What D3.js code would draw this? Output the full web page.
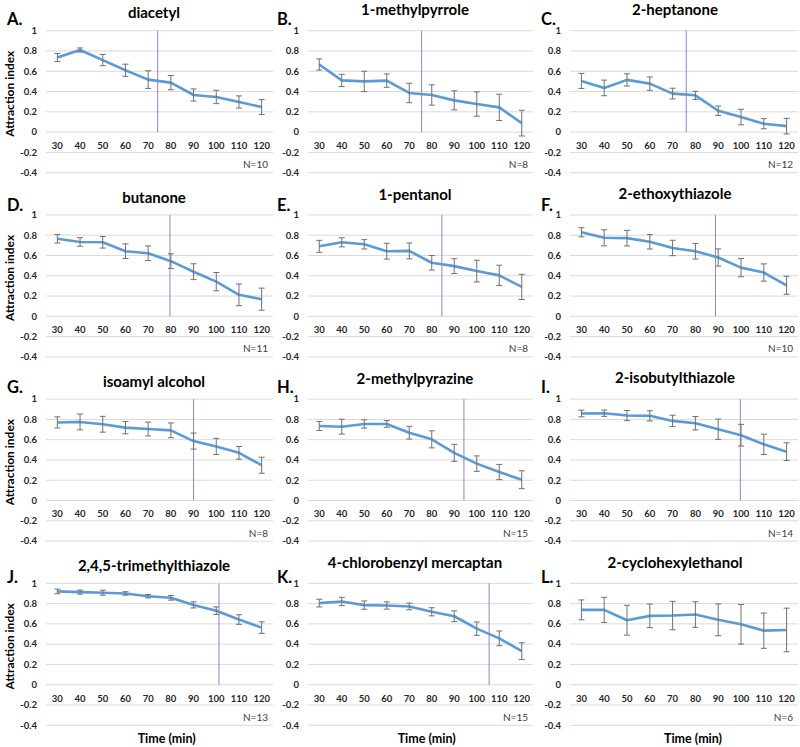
<!DOCTYPE html>
<html><head><meta charset="utf-8">
<script src="https://cdn.jsdelivr.net/npm/d3@7"></script>
<style>
html,body{margin:0;padding:0;background:#fff;}
svg{display:block;font-family:Lato,"Open Sans",sans-serif;}
</style></head>
<body>
<svg id="chart" width="800" height="747"></svg>
<script>
// ---------- data ----------
const times = [30, 40, 50, 60, 70, 80, 90, 100, 110, 120];
const yTicks = [-0.4, -0.2, 0, 0.2, 0.4, 0.6, 0.8, 1];
const yTickLabels = ["-0.4", "-0.2", "0", "0.2", "0.4", "0.6", "0.8", "1"];
const letters = ["A.", "B.", "C.", "D.", "E.", "F.", "G.", "H.", "I.", "J.", "K.", "L."];
const titles = ["diacetyl", "1-methylpyrrole", "2-heptanone", "butanone", "1-pentanol",
  "2-ethoxythiazole", "isoamyl alcohol", "2-methylpyrazine", "2-isobutylthiazole",
  "2,4,5-trimethylthiazole", "4-chlorobenzyl mercaptan", "2-cyclohexylethanol"];
const nLabels = ["N=10", "N=8", "N=12", "N=11", "N=8", "N=10", "N=8", "N=15", "N=14", "N=13", "N=15", "N=6"];
// time (min) of the vertical marker line in each panel (null = none)
const markerTimes = [74.2, 75.5, 76, 79.6, 84.5, 88.8, 90, 94.3, 99.7, 101.2, 105.5, null];
const means = [
  [0.736, 0.81, 0.71, 0.61, 0.518, 0.488, 0.366, 0.347, 0.297, 0.248],
  [0.667, 0.51, 0.50, 0.508, 0.386, 0.366, 0.313, 0.277, 0.244, 0.089],
  [0.505, 0.436, 0.515, 0.478, 0.38, 0.363, 0.211, 0.149, 0.083, 0.059],
  [0.765, 0.733, 0.73, 0.642, 0.622, 0.544, 0.44, 0.342, 0.212, 0.169],
  [0.69, 0.73, 0.71, 0.642, 0.645, 0.528, 0.495, 0.446, 0.404, 0.29],
  [0.829, 0.774, 0.771, 0.735, 0.674, 0.642, 0.58, 0.48, 0.432, 0.306],
  [0.77, 0.775, 0.752, 0.719, 0.705, 0.692, 0.586, 0.533, 0.47, 0.348],
  [0.735, 0.728, 0.755, 0.755, 0.669, 0.603, 0.47, 0.364, 0.281, 0.205],
  [0.858, 0.861, 0.838, 0.835, 0.785, 0.762, 0.703, 0.644, 0.554, 0.482],
  [0.92, 0.913, 0.907, 0.90, 0.873, 0.857, 0.787, 0.73, 0.643, 0.563],
  [0.805, 0.821, 0.785, 0.781, 0.772, 0.719, 0.675, 0.553, 0.457, 0.331],
  [0.738, 0.738, 0.636, 0.679, 0.682, 0.692, 0.64, 0.596, 0.533, 0.54]
];
const errors = [
  [0.04, 0.02, 0.055, 0.06, 0.087, 0.07, 0.06, 0.066, 0.06, 0.074],
  [0.055, 0.06, 0.10, 0.066, 0.096, 0.10, 0.094, 0.12, 0.13, 0.127],
  [0.074, 0.077, 0.06, 0.066, 0.053, 0.04, 0.046, 0.077, 0.05, 0.077],
  [0.042, 0.042, 0.057, 0.072, 0.072, 0.073, 0.078, 0.09, 0.107, 0.109],
  [0.059, 0.045, 0.046, 0.078, 0.078, 0.072, 0.073, 0.107, 0.10, 0.124],
  [0.045, 0.079, 0.077, 0.071, 0.076, 0.077, 0.085, 0.09, 0.085, 0.089],
  [0.055, 0.078, 0.078, 0.061, 0.068, 0.073, 0.079, 0.08, 0.063, 0.079],
  [0.045, 0.073, 0.041, 0.033, 0.063, 0.084, 0.084, 0.076, 0.075, 0.088],
  [0.033, 0.031, 0.05, 0.05, 0.056, 0.066, 0.10, 0.107, 0.10, 0.087],
  [0.023, 0.02, 0.025, 0.017, 0.017, 0.023, 0.03, 0.037, 0.047, 0.057],
  [0.038, 0.041, 0.041, 0.036, 0.033, 0.04, 0.053, 0.066, 0.073, 0.083],
  [0.098, 0.124, 0.147, 0.116, 0.14, 0.126, 0.157, 0.195, 0.174, 0.215]
];

// ---------- layout ----------
const colLeft = [46, 308, 570];
const colRight = [273, 533, 798];
const titleCX = [154, 415, 675];
const titleDY = [-17.5, -20.5, -21];
const letterX = [7, 277, 541];
const letterDY = [-11, -10, -12, -6];
const timeCX = [166.7, 426.7, 693];
const rowTop0 = 30.7, rowStep = 184.2, plotH = 142;

const svg = d3.select("#chart");

titles.forEach((title, i) => {
  const c = i % 3, r = Math.floor(i / 3);
  const top = rowTop0 + r * rowStep;
  const y = d3.scaleLinear().domain([-0.4, 1]).range([top + plotH, top]);
  const x = d3.scalePoint().domain(times).range([colLeft[c], colRight[c]]).padding(0.5);
  const xt = d3.scaleLinear().domain([30, 120]).range([x(30), x(120)]);
  const g = svg.append("g");

  // gridlines
  g.selectAll("line.grid").data(yTicks).join("line")
    .attr("x1", colLeft[c]).attr("x2", colRight[c])
    .attr("y1", d => y(d)).attr("y2", d => y(d))
    .attr("stroke", "#d9d9d9").attr("stroke-width", 1);

  // y tick labels
  g.selectAll("text.yt").data(yTicks).join("text")
    .attr("x", colLeft[c] - 9).attr("y", d => y(d)).attr("dy", "0.35em")
    .attr("text-anchor", "end").attr("font-size", 9.5).attr("font-weight", "bold")
    .attr("fill", "#262626")
    .text((d, k) => yTickLabels[k]);

  // x tick labels
  g.selectAll("text.xt").data(times).join("text")
    .attr("x", d => x(d)).attr("y", y(0) + 13.5).attr("dy", "0.35em")
    .attr("text-anchor", "middle").attr("font-size", 9.5).attr("font-weight", "bold")
    .attr("fill", "#262626")
    .text(d => d);

  // marker line
  if (markerTimes[i] != null) {
    g.append("line")
      .attr("x1", xt(markerTimes[i])).attr("x2", xt(markerTimes[i]))
      .attr("y1", y(1)).attr("y2", y(0))
      .attr("stroke", "#9f7cc9").attr("stroke-width", 1);
  }

  const pts = times.map((t, k) => ({t, m: means[i][k], e: errors[i][k]}));

  // line
  g.append("path").datum(pts)
    .attr("d", d3.line().x(d => x(d.t)).y(d => y(d.m)))
    .attr("fill", "none").attr("stroke", "#5b9bd5").attr("stroke-width", 2.6)
    .attr("stroke-linejoin", "round");

  // error bars
  const eb = g.selectAll("g.eb").data(pts).join("g");
  eb.append("line")
    .attr("x1", d => x(d.t)).attr("x2", d => x(d.t))
    .attr("y1", d => y(d.m + d.e)).attr("y2", d => y(d.m - d.e))
    .attr("stroke", "#707070").attr("stroke-width", 1);
  eb.append("line")
    .attr("x1", d => x(d.t) - 3).attr("x2", d => x(d.t) + 3)
    .attr("y1", d => y(d.m + d.e)).attr("y2", d => y(d.m + d.e))
    .attr("stroke", "#707070").attr("stroke-width", 1);
  eb.append("line")
    .attr("x1", d => x(d.t) - 3).attr("x2", d => x(d.t) + 3)
    .attr("y1", d => y(d.m - d.e)).attr("y2", d => y(d.m - d.e))
    .attr("stroke", "#707070").attr("stroke-width", 1);

  // title
  g.append("text")
    .attr("x", titleCX[c]).attr("y", top + titleDY[c]).attr("dy", "0.35em")
    .attr("text-anchor", "middle").attr("font-size", 15).attr("font-weight", "bold")
    .attr("fill", "#000").text(title);

  // panel letter
  g.append("text")
    .attr("x", letterX[c]).attr("y", top + letterDY[r]).attr("dy", "0.35em")
    .attr("font-size", 16.5).attr("font-weight", "bold").attr("fill", "#000")
    .text(letters[i]);

  // N label
  g.append("text")
    .attr("x", colRight[c] - 5).attr("y", top + 134).attr("dy", "0.35em")
    .attr("text-anchor", "end").attr("font-size", 10).attr("fill", "#404040")
    .text(nLabels[i]);

  // y axis title (first column)
  if (c === 0) {
    g.append("text")
      .attr("transform", `translate(10,${top + 63}) rotate(-90)`)
      .attr("dy", "0.35em").attr("text-anchor", "middle")
      .attr("font-size", 12).attr("font-weight", "bold").attr("fill", "#000")
      .text("Attraction index");
  }
  // x axis title (last row)
  if (r === 3) {
    g.append("text")
      .attr("x", timeCX[c]).attr("y", 739).attr("dy", "0.35em")
      .attr("text-anchor", "middle").attr("font-size", 12.5).attr("font-weight", "bold")
      .attr("fill", "#000").text("Time (min)");
  }
});
</script>
</body></html>
